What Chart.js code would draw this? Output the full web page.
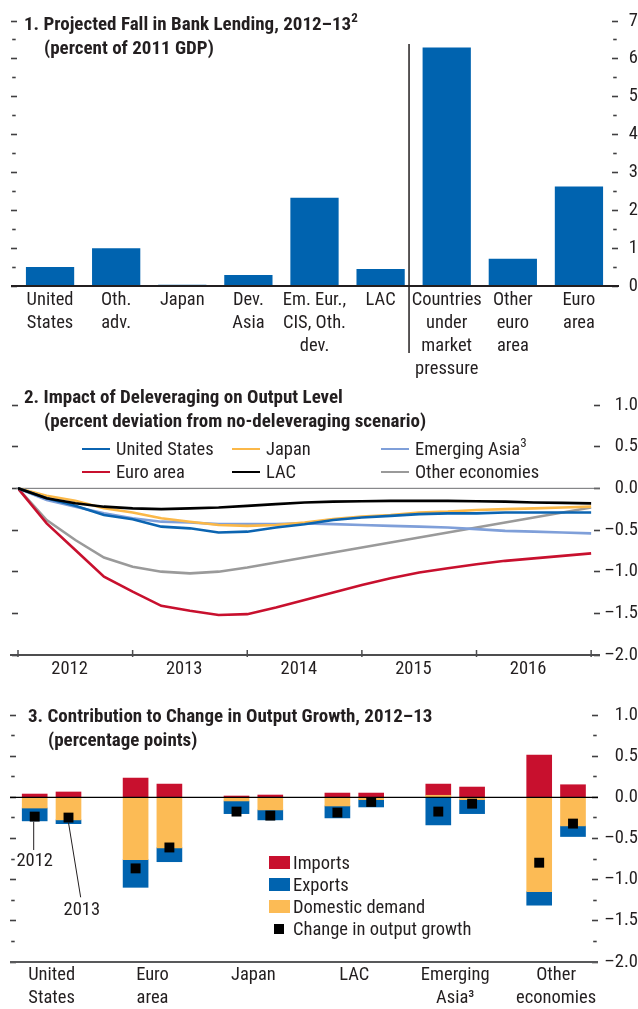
<!DOCTYPE html>
<html lang="en">
<head>
<meta charset="utf-8">
<title>Bank deleveraging and output</title>
<script src="https://cdn.jsdelivr.net/npm/chart.js@4.4.1/dist/chart.umd.min.js"></script>
<style>
  html, body { margin: 0; padding: 0; background: #fff; }
  #page {
    position: relative; width: 638px; height: 1009px; overflow: hidden;
    font-family: 'Roboto Condensed', 'Open Sans Condensed', sans-serif;
    color: #231f20;
  }
  canvas { position: absolute; left: 0; }
  #c1 { top: 0; }
  #c2 { top: 380px; }
  #c3 { top: 690px; }
  .title { position: absolute; font-size: 19px; font-weight: bold; line-height: 24px; white-space: nowrap; }
  .title span { display: block; }
  .title span + span { padding-left: 20px; }
  sup { font-size: 13px; line-height: 0; vertical-align: 8px; }
  .leg { position: absolute; font-size: 18.5px; line-height: 22px; white-space: nowrap; }
  .leg i { position: absolute; display: block; }
</style>
</head>
<body>
<div id="page">
  <canvas id="c1" width="638" height="380"></canvas>
  <canvas id="c2" width="638" height="310"></canvas>
  <canvas id="c3" width="638" height="319"></canvas>

  <div class="title" style="left:24px; top:12px">
    <span>1. Projected Fall in Bank Lending, 2012–13<sup>2</sup></span>
    <span>(percent of 2011 GDP)</span>
  </div>
  <div class="title" style="left:24px; top:385px">
    <span>2. Impact of Deleveraging on Output Level</span>
    <span>(percent deviation from no-deleveraging scenario)</span>
  </div>
  <div class="title" style="left:28px; top:704px">
    <span>3. Contribution to Change in Output Growth, 2012–13</span>
    <span>(percentage points)</span>
  </div>
  <div id="legend2"></div>
  <div id="legend3"></div>
</div>

<script>
/* ---- Panel 1: projected fall in bank lending ---- */
const lendingCategories = [
  ['United', 'States'], ['Oth.', 'adv.'], ['Japan'], ['Dev.', 'Asia'],
  ['Em. Eur.,', 'CIS, Oth.', 'dev.'], ['LAC'],
  ['Countries', 'under', 'market', 'pressure'], ['Other', 'euro', 'area'], ['Euro', 'area'],
];
const lendingValues = [0.50, 1.00, 0.03, 0.29, 2.33, 0.45, 6.30, 0.72, 2.63];
const lendingRange = [0, 7];

/* ---- Panel 2: impact on output level (quarterly, 2012 to end-2016) ---- */
const yearLabels = ['2012', '2013', '2014', '2015', '2016'];
const usImpact    = [0, -0.12, -0.21, -0.32, -0.37, -0.46, -0.48, -0.53, -0.52, -0.47, -0.43, -0.38, -0.35, -0.33, -0.31, -0.30, -0.30, -0.29, -0.29, -0.29, -0.29];
const japanImpact = [0, -0.09, -0.15, -0.24, -0.29, -0.36, -0.40, -0.44, -0.45, -0.44, -0.41, -0.37, -0.34, -0.32, -0.29, -0.28, -0.26, -0.25, -0.24, -0.23, -0.22];
const asiaImpact  = [0, -0.14, -0.22, -0.30, -0.36, -0.40, -0.41, -0.43, -0.43, -0.43, -0.42, -0.43, -0.44, -0.45, -0.46, -0.47, -0.49, -0.51, -0.52, -0.53, -0.54];
const euroImpact  = [0, -0.42, -0.74, -1.06, -1.24, -1.41, -1.47, -1.52, -1.51, -1.43, -1.34, -1.25, -1.16, -1.08, -1.01, -0.96, -0.91, -0.87, -0.84, -0.81, -0.78];
const lacImpact   = [0, -0.12, -0.18, -0.22, -0.24, -0.25, -0.24, -0.23, -0.21, -0.19, -0.17, -0.16, -0.155, -0.15, -0.15, -0.15, -0.155, -0.16, -0.17, -0.175, -0.18];
const otherImpact = [0, -0.38, -0.62, -0.83, -0.94, -1.00, -1.02, -1.00, -0.95, -0.89, -0.83, -0.77, -0.71, -0.65, -0.59, -0.53, -0.47, -0.41, -0.35, -0.29, -0.23];
const impactNames = ['United States', 'Japan', 'Emerging Asia³', 'Euro area', 'LAC', 'Other economies'];
const impactRange = [-2, 1];

/* ---- Panel 3: contributions to change in output growth ---- */
const growthGroups = [['United', 'States'], ['Euro', 'area'], ['Japan'], ['LAC'], ['Emerging', 'Asia³'], ['Other', 'economies']];
const growthYears = ['2012', '2013'];
const domestic2012 = [-0.130, -0.758, -0.044, -0.105,  0.025, -1.145];
const exports2012  = [-0.156, -0.335, -0.154, -0.145, -0.335, -0.165];
const imports2012  = [ 0.040,  0.234,  0.016,  0.052,  0.136,  0.512];
const output2012   = [-0.234, -0.863, -0.173, -0.185, -0.173, -0.794];
const domestic2013 = [-0.274, -0.613, -0.153, -0.028, -0.028, -0.347];
const exports2013  = [-0.046, -0.169, -0.121, -0.089, -0.170, -0.129];
const imports2013  = [ 0.065,  0.161,  0.028,  0.052,  0.125,  0.153];
const output2013   = [-0.246, -0.609, -0.222, -0.056, -0.077, -0.319];
const growthRange = [-2, 1];

/* ---- styles ---- */
const FONT = "'Roboto Condensed', 'Open Sans Condensed', sans-serif";
const FONT_SIZE = 18.5;
const INK = '#231f20';
const TICK_COLOR = '#414042';
const BAR_BLUE = '#0063af';
const RED = '#c8102e';
const YELLOW = '#fcbb55';
const impactColors = ['#0b64b1', '#fbb848', '#7f9fd9', '#c8102e', '#000000', '#9a9a9a'];
const impactDrawOrder = [2, 3, 4, 5, 1, 6]; // lower = drawn on top
const YEAR_SHIFT = [-0.1675, 0.1675];        // 2012 / 2013 bars either side of the group

Chart.defaults.font.family = FONT;
Chart.defaults.font.size = FONT_SIZE;
Chart.defaults.font.lineHeight = 1.25;
Chart.defaults.color = INK;

function stepTicks(min, max, step) {
  const out = [];
  for (let v = min; v <= max + 1e-9; v += step) out.push({ value: Math.round(v * 1000) / 1000 });
  return out;
}

function fmtOneDecimal(v) {
  if (Math.abs(v * 2 - Math.round(v * 2)) > 1e-6) return '';
  return (v < 0 ? '–' : '') + Math.abs(v).toFixed(1);
}

// major ticks get the full 6px mark, minor ones a short centred dash
function valueAxis({ position, range, step, major, width, label, padding, stacked }) {
  const isMinor = v => Math.abs(v / major - Math.round(v / major)) > 1e-6;
  return {
    type: 'linear',
    position,
    stacked: !!stacked,
    min: range[0],
    max: range[1],
    afterBuildTicks: a => { a.ticks = stepTicks(range[0], range[1], step); },
    afterFit: a => { a.width = width; },
    ticks: {
      display: !!label,
      callback: label || (() => ''),
      padding: padding || 0,
      crossAlign: 'far',
      autoSkip: false,
      color: INK,
    },
    grid: {
      drawOnChartArea: false,
      drawTicks: true,
      tickLength: 6,
      tickWidth: 1.6,
      tickColor: TICK_COLOR,
      tickBorderDash: c => (c.tick && isMinor(c.tick.value) ? [3.5, 20] : []),
      tickBorderDashOffset: c => (c.tick && isMinor(c.tick.value) ? -1.2 : 0),
    },
    border: { display: false },
  };
}

function hline(ctx, x1, x2, yy, color, width) {
  ctx.save();
  ctx.strokeStyle = color;
  ctx.lineWidth = width;
  ctx.beginPath();
  ctx.moveTo(x1, yy);
  ctx.lineTo(x2, yy);
  ctx.stroke();
  ctx.restore();
}

function segment(ctx, x1, y1, x2, y2, color, width) {
  ctx.save();
  ctx.strokeStyle = color;
  ctx.lineWidth = width;
  ctx.beginPath();
  ctx.moveTo(x1, y1);
  ctx.lineTo(x2, y2);
  ctx.stroke();
  ctx.restore();
}

const baseOptions = {
  responsive: false,
  animation: false,
  devicePixelRatio: 1,
  events: [],
};

/* ---- Panel 1 ---- */
const SEPARATOR_AT = 5.43; // between LAC and the euro-area groups

new Chart(document.getElementById('c1'), {
  type: 'bar',
  data: {
    labels: lendingCategories,
    datasets: [{
      data: lendingValues,
      backgroundColor: BAR_BLUE,
      categoryPercentage: 1,
      barPercentage: 0.73,
      yAxisID: 'y',
    }],
  },
  options: {
    ...baseOptions,
    layout: { padding: { top: 21, left: 0, right: 0, bottom: 0 } },
    plugins: { legend: { display: false }, tooltip: { enabled: false } },
    scales: {
      x: {
        grid: { display: false, drawTicks: false },
        border: { display: false },
        ticks: { padding: 2.4, autoSkip: false, maxRotation: 0 },
        afterFit: a => { a.height = 94; },
      },
      y: valueAxis({
        position: 'right', range: lendingRange, step: 0.5, major: 1, width: 26, padding: 4,
        label: v => (Number.isInteger(v) ? String(v) : ''),
      }),
      yLeft: valueAxis({ position: 'left', range: lendingRange, step: 0.5, major: 1, width: 17 }),
    },
  },
  plugins: [{
    id: 'lendingAxes',
    afterDraw(chart) {
      const { ctx, chartArea, scales: { x, y } } = chart;
      const y0 = y.getPixelForValue(0);
      hline(ctx, chartArea.left - 6, chartArea.right + 7, y0, INK, 1.8);
      const sx = x.getPixelForValue(SEPARATOR_AT);
      segment(ctx, sx, y.getPixelForValue(6.39), sx, y0 + 67, INK, 1.5);
    },
  }],
});

/* ---- Panel 2 ---- */
const impactValues = [usImpact, japanImpact, asiaImpact, euroImpact, lacImpact, otherImpact];

new Chart(document.getElementById('c2'), {
  type: 'line',
  data: {
    datasets: impactValues.map((vals, i) => ({
      label: impactNames[i],
      data: vals.map((v, q) => ({ x: q, y: v })),
      borderColor: impactColors[i],
      borderWidth: 2.6,
      pointRadius: 0,
      tension: 0,
      order: impactDrawOrder[i],
      yAxisID: 'y',
    })),
  },
  options: {
    ...baseOptions,
    layout: { padding: { top: 25, left: 0, right: 0, bottom: 0 } },
    plugins: { legend: { display: false }, tooltip: { enabled: false } },
    scales: {
      x: {
        type: 'linear',
        offset: false,
        min: 0,
        max: 20.1,
        afterBuildTicks: a => { a.ticks = yearLabels.map((_, i) => ({ value: 4 * i + 1.8 })); },
        afterFit: a => { a.height = 35; },
        grid: { display: false, drawTicks: false },
        border: { display: false },
        ticks: { padding: 2.4, autoSkip: false, maxRotation: 0, callback: (v, i) => yearLabels[i] },
      },
      y: valueAxis({ position: 'right', range: impactRange, step: 0.5, major: 0.5, width: 44, padding: 2, label: fmtOneDecimal }),
      yLeft: valueAxis({ position: 'left', range: impactRange, step: 0.5, major: 0.5, width: 18 }),
    },
  },
  plugins: [{
    id: 'impactAxes',
    beforeDatasetsDraw(chart) {
      const { ctx, chartArea, scales: { y } } = chart;
      hline(ctx, chartArea.left - 2, chartArea.right + 6, y.getPixelForValue(0), '#6d6e71', 1);
    },
    afterDraw(chart) {
      const { ctx, chartArea, scales: { x, y } } = chart;
      const yb = y.getPixelForValue(impactRange[0]);
      hline(ctx, chartArea.left - 8, chartArea.right + 6, yb, '#4d4d4f', 1.8);
      for (let i = 0; i <= yearLabels.length; i++) {
        const tx = x.getPixelForValue(4 * i);
        segment(ctx, tx, yb - 5, tx, yb + 2, '#4d4d4f', 1.5);
      }
    },
  }],
});

/* legend for panel 2 */
(function buildImpactLegend() {
  const cols = [82, 232, 381];
  const rows = [449, 472];
  const box = document.getElementById('legend2');
  impactNames.forEach((name, i) => {
    const d = document.createElement('div');
    d.className = 'leg';
    d.style.left = cols[i % 3] + 'px';
    d.style.top = (rows[Math.floor(i / 3)] - 11) + 'px';
    d.style.paddingLeft = '34px';
    d.innerHTML = `<i style="left:0;top:9.7px;width:28px;height:2.6px;background:${impactColors[i]}"></i>` +
      name.replace('³', '<sup>3</sup>');
    box.appendChild(d);
  });
})();

/* ---- Panel 3 ---- */
function yearPoints(v2012, v2013) {
  const pts = [];
  growthGroups.forEach((_, i) => {
    pts.push({ x: i + YEAR_SHIFT[0], y: v2012[i] });
    pts.push({ x: i + YEAR_SHIFT[1], y: v2013[i] });
  });
  return pts;
}

const growthComponents = ['Domestic demand', 'Exports', 'Imports'];
const growthColors = [YELLOW, BAR_BLUE, RED];
const growthData = [
  yearPoints(domestic2012, domestic2013),
  yearPoints(exports2012, exports2013),
  yearPoints(imports2012, imports2013),
];

new Chart(document.getElementById('c3'), {
  type: 'bar',
  data: {
    datasets: [
      ...growthData.map((pts, i) => ({
        label: growthComponents[i],
        data: pts,
        backgroundColor: growthColors[i],
        barThickness: 25,
        borderWidth: 0,
        order: 1,
        yAxisID: 'y',
      })),
      {
        type: 'scatter',
        label: 'Change in output growth',
        data: yearPoints(output2012, output2013),
        pointStyle: 'rect',
        pointRadius: 7,
        backgroundColor: '#000',
        borderWidth: 0,
        stack: 'markers',
        order: 0,
        yAxisID: 'y',
      },
    ],
  },
  options: {
    ...baseOptions,
    layout: { padding: { top: 25, left: 0, right: 0, bottom: 0 } },
    plugins: { legend: { display: false }, tooltip: { enabled: false } },
    scales: {
      x: {
        type: 'linear',
        offset: false,
        stacked: true,
        min: -0.3528,
        max: 5.3558,
        afterBuildTicks: a => { a.ticks = growthGroups.map((_, i) => ({ value: i })); },
        afterFit: a => { a.height = 47; },
        grid: { display: false, drawTicks: false },
        border: { display: false },
        ticks: { padding: 2, autoSkip: false, maxRotation: 0, callback: (v, i) => growthGroups[i] },
      },
      y: valueAxis({ position: 'right', range: growthRange, step: 0.25, major: 0.5, width: 46, padding: 4, label: fmtOneDecimal, stacked: true }),
      yLeft: valueAxis({ position: 'left', range: growthRange, step: 0.25, major: 0.5, width: 16 }),
    },
  },
  plugins: [{
    id: 'growthAxes',
    beforeDatasetDraw(chart, args) {
      if (args.index !== growthData.length) return;
      const { ctx, chartArea, scales: { y } } = chart;
      hline(ctx, chartArea.left - 6, chartArea.right + 6, y.getPixelForValue(0), '#000', 1.2);
    },
    afterDraw(chart) {
      const { ctx, chartArea, scales: { x, y } } = chart;
      hline(ctx, chartArea.left - 6, chartArea.right + 6, y.getPixelForValue(growthRange[0]), '#58595b', 2);

      // year call-outs on the first group
      const m1x = x.getPixelForValue(YEAR_SHIFT[0]);
      const m1y = y.getPixelForValue(output2012[0]);
      const m2x = x.getPixelForValue(YEAR_SHIFT[1]);
      const m2y = y.getPixelForValue(output2013[0]);
      segment(ctx, m1x - 1, m1y + 5, m1x - 1, y.getPixelForValue(-0.64), INK, 1);
      segment(ctx, m2x, m2y + 5, x.getPixelForValue(0.288), y.getPixelForValue(-1.214), INK, 1);
      ctx.save();
      ctx.font = `${FONT_SIZE}px ${FONT}`;
      ctx.fillStyle = INK;
      ctx.textAlign = 'center';
      ctx.textBaseline = 'middle';
      ctx.fillText(growthYears[0], m1x, y.getPixelForValue(-0.778));
      ctx.fillText(growthYears[1], x.getPixelForValue(0.30), y.getPixelForValue(-1.375));
      ctx.restore();
    },
  }],
});

/* legend for panel 3 */
(function buildGrowthLegend() {
  const box = document.getElementById('legend3');
  const rows = [862.5, 884.5, 906.5, 928.5];
  const entries = [
    { name: 'Imports', swatch: `<i style="left:0;top:4.5px;width:21px;height:13px;background:${RED}"></i>` },
    { name: 'Exports', swatch: `<i style="left:0;top:4.5px;width:21px;height:13px;background:${BAR_BLUE}"></i>` },
    { name: 'Domestic demand', swatch: `<i style="left:0;top:4.5px;width:21px;height:13px;background:${YELLOW}"></i>` },
    { name: 'Change in output growth', swatch: '<i style="left:5.5px;top:6px;width:9.5px;height:10px;background:#000"></i>' },
  ];
  entries.forEach((e, i) => {
    const d = document.createElement('div');
    d.className = 'leg';
    d.style.left = '268.5px';
    d.style.top = (rows[i] - 11) + 'px';
    d.style.paddingLeft = '24.5px';
    d.innerHTML = e.swatch + e.name;
    box.appendChild(d);
  });
})();
</script>
</body>
</html>
